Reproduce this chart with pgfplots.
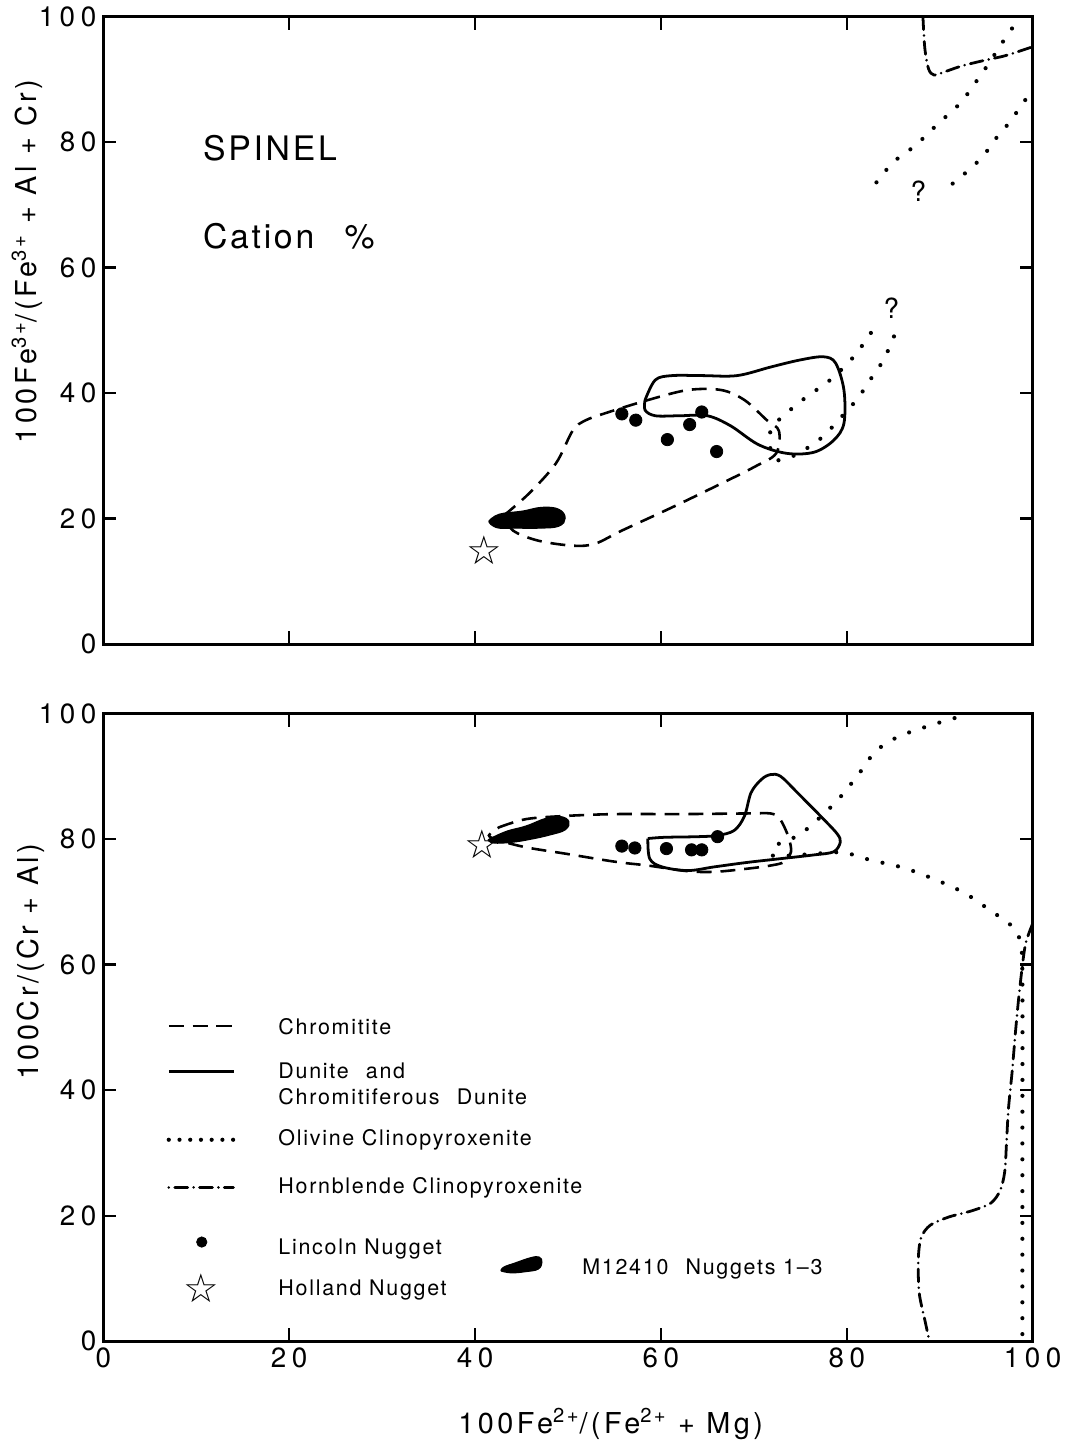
\documentclass[border=0pt]{standalone}
\usepackage{fontspec}
\setmainfont{TeX Gyre Heros}[LetterSpace=8]
\newfontfamily\tickfont{TeX Gyre Heros}[LetterSpace=20]
\newfontfamily\labfont{TeX Gyre Heros}[LetterSpace=12]
\newfontfamily\starfont{DejaVu Sans}
\usepackage{pgfplots}
\pgfplotsset{compat=1.18}

\pgfplotsset{
  spinel/.style={
    scale only axis, width=468pt, height=316pt,
    xmin=0, xmax=100, ymin=0, ymax=100,
    xtick={0,20,...,100}, ytick={0,20,...,100},
    tick align=inside, major tick length=6.5pt,
    axis line style={line width=1.4pt},
    every tick/.style={black, line width=1.2pt},
    tick label style={font=\tickfont\fontsize{14}{16}\selectfont},
    /pgf/number format/assume math mode=true,
    label style={font=\labfont\fontsize{14.5}{16}\selectfont},
  },
  chromitite/.style={black, line width=1.3pt, dash pattern=on 7.5pt off 4.5pt, smooth, tension=0.55, mark=none},
  dunite/.style={black, line width=1.4pt, smooth, tension=0.55, mark=none},
  olivine/.style={black, line width=2.1pt, line cap=round, dash pattern=on 0pt off 8pt, smooth, mark=none},
  hornblende/.style={black, line width=1.4pt, line cap=round, dash pattern=on 6.5pt off 3pt on 0pt off 3pt, smooth, mark=none},
  nugget/.style={fill=black, draw=black, line width=0.6pt, smooth, tension=0.7, mark=none},
  lincoln/.style={only marks, mark=*, mark size=3.1pt, black},
  holland/.style={only marks, mark=text,
    text mark={\starfont\fontsize{20}{20}\selectfont ☆}, text mark as node=true,
    text mark style={inner sep=0pt, anchor=center}},
}

\begin{document}
\begin{tikzpicture}

% ---- upper panel: Fe3+ ratio
\begin{axis}[spinel, name=top,
  xticklabels={},
  ylabel={100Fe\textsuperscript{3+}/(Fe\textsuperscript{3+} + Al + Cr)},
  ylabel style={at={(rel axis cs:-0.058,0.61)}, anchor=south},
]
\coordinate (tl) at (rel axis cs:0,1);

% chromitite
\addplot[chromitite] coordinates {(43.1,20.5) (45.8,24) (48.7,28.8) (50.5,34) (51.8,35.6) (54,36.8) (58.6,38.9) (62.9,40.5) (66.5,40.5) (69,38.9) (71.4,35.7) (72.7,34) (72.4,30.4) (70,28.2) (66.5,25.6) (61.2,21.8) (55.8,18.1) (52.9,16) (50.5,15.7) (46.8,16.5) (44.1,18.1) (43.1,20.5)};
% dunite
\addplot[dunite] coordinates {(58.3,38.9) (59.4,42.1) (61.2,42.8) (64.5,42.8) (68.2,42.8) (71.9,44.2) (75,45.3) (77.5,45.8) (78.8,44.8) (79.7,40.5) (79.7,35.2) (78.6,32.5) (76.5,30.6) (73.6,30.4) (70.5,31.8) (67.5,34.8) (65,36.4) (62,36.4) (59.4,36.4) (58.3,37.3) (58.3,38.9)};
% olivine clinopyroxenite
\addplot[olivine] coordinates {(82.6,49.6) (80.8,45.9) (78.3,42.2) (75.4,39.1) (72.8,35.9) (71.8,34) (71.8,31) (72.5,29.3) (74.4,30.1) (76,31.5) (77.6,33.3) (79.6,36.5) (81.2,39.2) (82.6,42.3) (84,45.4) (85.1,49.1)};
\addplot[olivine] coordinates {(83.2,73.6) (85,76.8) (87.4,79.5) (89.8,82.9) (92.2,86.2) (93.9,89.6) (95.4,92.8) (96.8,96) (98.2,99)};
\addplot[olivine] coordinates {(91.4,73.4) (92.7,75) (93.9,76.6) (95,78.4) (96,80.5) (97.1,82.4) (98,84.2) (98.8,85.8) (99.5,87.4)};
% hornblende clinopyroxenite
\addplot[hornblende] coordinates {(88.2,100) (88.4,95) (88.8,91.7) (89.4,90.7) (90.7,91.3) (92.5,92.2) (95,93.1) (97.1,93.8) (100,95.2)};
% M12410 nuggets
\addplot[nugget] coordinates {(41.5,19.6) (42.6,20.7) (45.1,21.2) (47.2,21.8) (49,21.5) (49.7,20.1) (49,18.8) (46.9,18.5) (44.4,18.5) (42.6,18.5) (41.7,19.1) (41.5,19.6)};
% Lincoln nugget
\addplot[lincoln] coordinates {(55.8,36.7) (57.3,35.7) (64.4,37.0) (63.1,35.0) (60.7,32.6) (66.0,30.7)};
% Holland nugget
\addplot[holland] coordinates {(41.0,15.0)};

\node[anchor=west, font=\fontsize{17}{20}\selectfont] at (axis cs:10,79) {SPINEL};
\node[anchor=west, font=\fontsize{17}{20}\selectfont] at (axis cs:10,65) {Cation\hspace{0.9em}\%};
\node[font=\fontsize{14}{16}\selectfont] at (axis cs:84.8,53.5) {?};
\node[font=\fontsize{14}{16}\selectfont] at (axis cs:87.7,72.2) {?};
\end{axis}

% ---- lower panel: Cr ratio
\begin{axis}[spinel, name=bot,
  at={(top.south west)}, anchor=north west, yshift=-35pt,
  ylabel={100Cr/(Cr + Al)},
  ylabel style={at={(rel axis cs:-0.056,0.605)}, anchor=south},
  xlabel={100Fe\textsuperscript{2+}/(Fe\textsuperscript{2+} + Mg)},
  xlabel style={at={(rel axis cs:0.546,-0.096)}, anchor=north},
]
\coordinate (br) at (rel axis cs:1,0);

\addplot[chromitite] coordinates {(42.6,81.9) (45.5,83.2) (49.7,83.7) (55.1,84.0) (62.2,84.0) (69.3,84.1) (71.8,84.1) (72.7,83.4) (73.3,81.9) (73.8,80.0) (74.0,78.0) (73.3,76.4) (71.8,75.8) (69.3,75.3) (65.8,74.8) (62.9,74.9) (58.6,75.8) (55.1,76.4) (49.7,77.7) (45.5,78.7) (42.6,79.8) (41.5,80.6) (42.6,81.9)};
\addplot[dunite] coordinates {(58.6,80.1) (58.8,76.9) (60.1,75.6) (62.9,75.0) (65.8,75.6) (69.3,76.3) (72.9,76.9) (76.5,77.5) (78.6,78.0) (79.3,79.5) (79.0,80.8) (77.5,83.2) (74.7,87.4) (72.9,90.0) (71.8,90.3) (70.8,89.5) (69.7,87.4) (69.0,83.7) (67.9,81.4) (66.1,80.6) (64.0,80.4) (60.4,80.3) (58.6,80.1)};
\addplot[olivine] coordinates {(91.6,99.3) (88.7,98.0) (85.5,96.3) (83.1,94.0) (81.3,90.4) (79.3,86.7) (77.3,83.7) (74.9,80.7) (72.6,79.2) (72.0,78.3) (72.2,77.3) (76,77.6) (79.5,77.9) (82.5,76.7) (86.2,75.4) (89.8,73.4) (92.7,71.4) (95.3,68.8) (97.8,66.1) (98.7,63.5) (98.9,58) (98.9,30) (98.9,0)};
\addplot[hornblende] coordinates {(100,66.5) (99.2,63) (98.6,56) (98.2,50) (97.8,43) (97.4,37) (97.2,31.8) (97.0,27) (96.5,24) (95.5,22) (93.5,20.8) (91,19.8) (89,18.5) (88,16.5) (87.7,13) (87.8,7.7) (88.4,3.4) (88.9,0)};
\addplot[nugget] coordinates {(41.4,79.9) (43.3,81.2) (45.5,82.1) (47.6,83.3) (49.2,83.6) (50.1,82.8) (49.7,81.5) (48.1,80.7) (46.0,80.0) (43.9,79.5) (42.0,79.4) (41.4,79.9)};
\addplot[lincoln] coordinates {(55.8,78.9) (57.2,78.6) (60.6,78.5) (63.3,78.3) (64.4,78.3) (66.1,80.4)};
\addplot[holland] coordinates {(40.8,79.2)};

% key
\addplot[chromitite] coordinates {(7.05,50.2) (14,50.2)};
\addplot[dunite] coordinates {(7.05,43.0) (14,43.0)};
\addplot[olivine, dash pattern=on 0pt off 5.4pt] coordinates {(7.05,32.1) (14,32.1)};
\addplot[hornblende, dash pattern=on 0pt off 3pt on 6.5pt off 3pt] coordinates {(7.05,24.5) (14,24.5)};
\addplot[lincoln, mark size=2.6pt] coordinates {(10.6,15.8)};
\addplot[holland] coordinates {(10.6,8.4)};
\addplot[nugget] coordinates {(42.8,11.2) (43.9,10.9) (45.5,11.1) (46.8,11.5) (47.2,12.6) (46.9,13.4) (46.0,13.3) (44.4,12.5) (43.1,11.8) (42.8,11.2)};

\begin{scope}[every node/.style={anchor=west, font=\fontsize{10.8}{12}\selectfont}]
\node at (axis cs:18.1,50.2) {Chromitite};
\node at (axis cs:18.1,43.1) {Dunite\hspace{0.8em}and};
\node at (axis cs:18.1,39.0) {Chromitiferous\hspace{0.8em}Dunite};
\node at (axis cs:18.1,32.1) {Olivine Clinopyroxenite};
\node at (axis cs:18.1,24.5) {Hornblende Clinopyroxenite};
\node at (axis cs:18.1,14.7) {Lincoln Nugget};
\node at (axis cs:18.1,8.1) {Holland Nugget};
\node at (axis cs:50.8,11.5) {M12410\hspace{0.8em}Nuggets 1–3};
\end{scope}
\end{axis}

\path (tl) ++(-52pt,7.5pt) coordinate (A);
\path (br) ++(14.5pt,-48pt) coordinate (B);
\path (A) rectangle (B);
\end{tikzpicture}
\end{document}
